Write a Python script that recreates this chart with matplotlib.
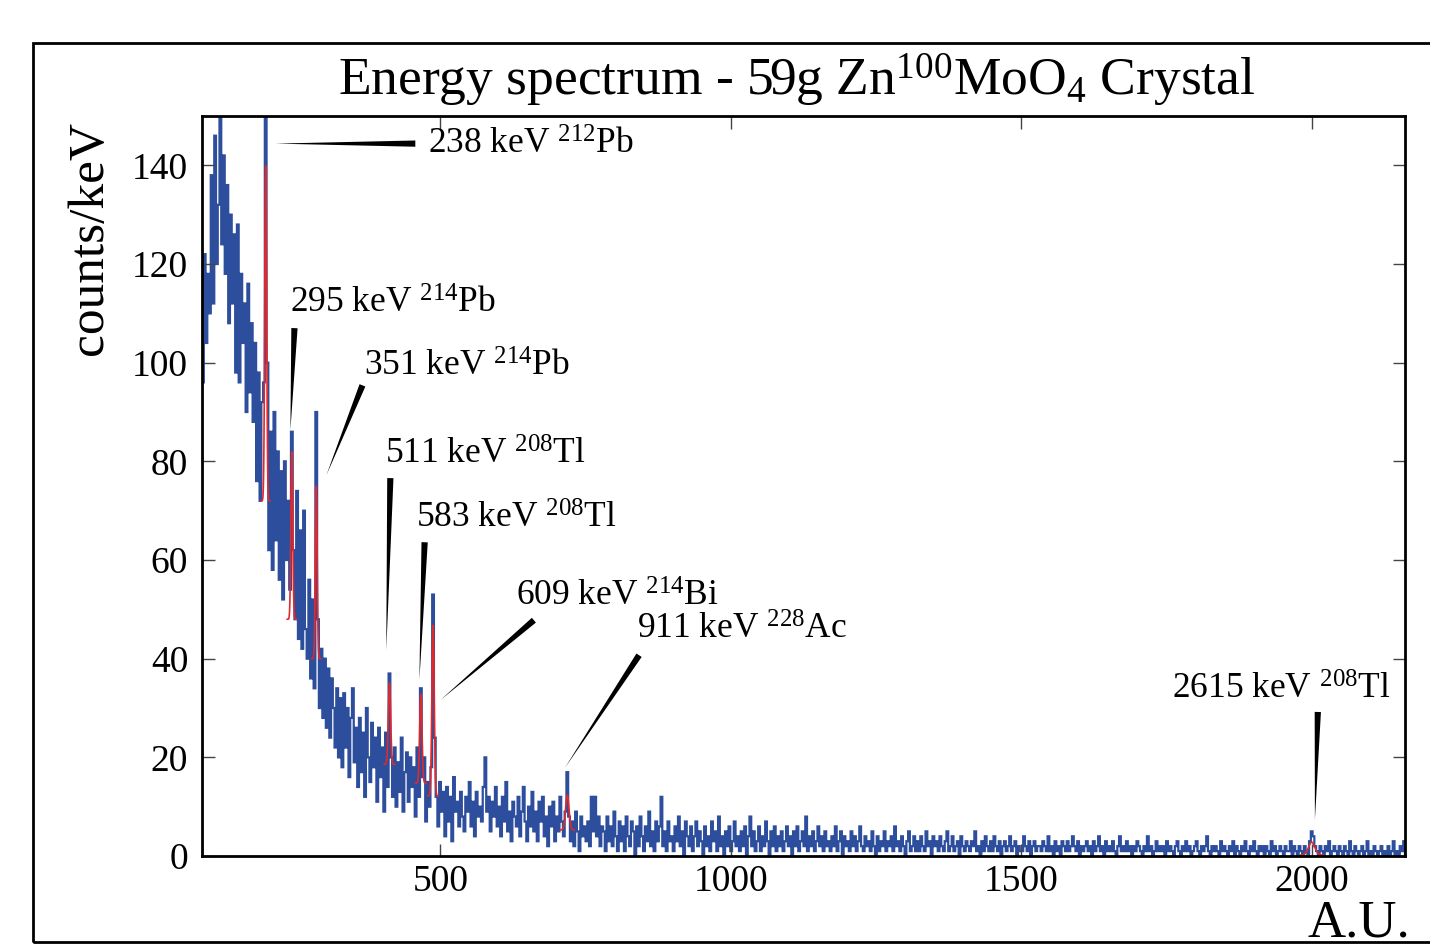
import numpy as np
import matplotlib.pyplot as plt
from matplotlib.patches import Rectangle

plt.rcParams['font.family'] = ['Liberation Serif', 'DejaVu Serif']
plt.rcParams['mathtext.fontset'] = 'custom'
plt.rcParams['mathtext.rm'] = 'Liberation Serif'
plt.rcParams['mathtext.it'] = 'Liberation Serif:italic'

# histogram: 3 A.U. bins starting at 90 (one row = 30 A.U.)
bin_start = 90
bin_width = 3
counts = [
    96, 122, 104, 118, 110, 138, 112, 146, 120, 132,
    150, 124, 142, 118, 136, 108, 130, 112, 126, 98,
    128, 96, 118, 104, 112, 90, 116, 94, 108, 88,
    104, 76, 98, 72, 92, 96, 150, 100, 62, 86,
    58, 90, 64, 82, 56, 78, 52, 80, 60, 72,
    54, 86, 62, 48, 74, 44, 66, 42, 70, 46,
    40, 56, 36, 52, 34, 90, 48, 30, 42, 28,
    40, 26, 38, 24, 36, 30, 22, 34, 20, 32,
    18, 33, 22, 30, 16, 28, 34, 19, 26, 14,
    28, 17, 25, 12, 30, 20, 15, 27, 18, 24,
    11, 26, 16, 22, 9, 25, 14, 37, 20, 12,
    22, 10, 19, 13, 24, 9, 17, 21, 11, 20,
    14, 18, 8, 22, 12, 34, 16, 20, 7, 15,
    10, 18, 53, 24, 12, 6, 15, 9, 13, 4,
    14, 7, 12, 3, 16, 9, 11, 6, 13, 8,
    5, 12, 9, 15, 6, 11, 4, 13, 8, 10,
    7, 14, 20, 9, 12, 5, 11, 8, 14, 6,
    10, 4, 12, 7, 15, 5, 9, 3, 11, 8,
    6, 12, 4, 9, 14, 7, 3, 10, 6, 13,
    5, 9, 3, 11, 7, 12, 4, 8, 2, 10,
    6, 11, 3, 8, 5, 12, 7, 4, 9, 17,
    8, 3, 7, 2, 9, 5, 1, 8, 4, 6,
    3, 7, 2, 12, 5, 12, 4, 8, 2, 6,
    5, 1, 8, 3, 6, 2, 9, 4, 1, 7,
    3, 6, 1, 8, 4, 2, 7, 5, 0, 6,
    2, 8, 4, 1, 6, 3, 9, 2, 5, 1,
    7, 3, 6, 12, 2, 5, 1, 7, 3, 4,
    1, 6, 3, 8, 2, 5, 0, 7, 4, 2,
    6, 1, 4, 7, 2, 5, 3, 0, 6, 2,
    4, 1, 7, 3, 5, 1, 8, 2, 4, 0,
    5, 2, 6, 1, 3, 7, 2, 4, 1, 5,
    2, 6, 0, 4, 8, 2, 5, 1, 3, 6,
    1, 4, 2, 7, 3, 0, 5, 2, 6, 1,
    4, 2, 5, 1, 3, 6, 2, 4, 0, 5,
    2, 6, 1, 3, 5, 2, 8, 1, 4, 2,
    5, 1, 3, 6, 2, 4, 1, 5, 2, 3,
    1, 4, 2, 6, 1, 3, 5, 0, 4, 2,
    3, 1, 5, 2, 4, 1, 3, 6, 2, 1,
    4, 2, 3, 1, 5, 2, 0, 4, 1, 3,
    2, 5, 1, 3, 2, 4, 1, 6, 2, 3,
    1, 4, 2, 0, 3, 5, 1, 2, 4, 1,
    3, 1, 4, 2, 1, 5, 2, 3, 0, 4,
    2, 3, 1, 4, 2, 1, 3, 5, 1, 2,
    4, 1, 2, 3, 0, 4, 2, 1, 3, 2,
    1, 3, 2, 5, 1, 2, 0, 3, 1, 4,
    2, 1, 3, 1, 4, 2, 1, 3, 0, 2,
    3, 1, 2, 4, 1, 2, 3, 0, 2, 1,
    1, 4, 2, 1, 3, 0, 2, 3, 1, 2,
    2, 1, 3, 2, 1, 4, 1, 2, 0, 3,
    1, 2, 0, 3, 2, 1, 3, 1, 2, 4,
    2, 1, 3, 0, 2, 1, 2, 3, 1, 2,
    0, 3, 1, 2, 4, 1, 2, 0, 3, 1,
    2, 1, 3, 1, 0, 2, 4, 1, 2, 1,
    3, 1, 2, 0, 2, 1, 3, 2, 1, 0,
    2, 1, 4, 1, 2, 0, 1, 3, 1, 2,
    1, 2, 0, 3, 1, 2, 1, 0, 2, 3,
    1, 0, 2, 1, 3, 1, 2, 0, 1, 2,
    3, 1, 0, 2, 1, 2, 4, 1, 0, 2,
    1, 2, 1, 0, 3, 1, 2, 1, 0, 2,
    1, 3, 0, 2, 1, 0, 2, 1, 3, 1,
    0, 2, 1, 3, 1, 0, 2, 1, 2, 0,
    2, 1, 0, 3, 1, 2, 0, 1, 2, 1,
    0, 2, 1, 1, 3, 0, 2, 1, 0, 2,
    1, 0, 2, 1, 0, 3, 5, 4, 2, 1,
    0, 2, 1, 0, 2, 1, 3, 0, 1, 2,
    1, 0, 2, 1, 0, 2, 1, 0, 3, 1,
    0, 2, 1, 0, 1, 2, 0, 1, 3, 0,
    1, 0, 2, 1, 0, 1, 2, 0, 1, 0,
    2, 0, 1, 3, 0, 1, 0, 2, 1, 3,
]
edges = bin_start + bin_width * np.arange(len(counts) + 1)

# gaussian fits: centre, amplitude, sigma, constant, half range
fit_center = [199.5, 244.5, 286.5, 412.5, 466.5, 487.5, 718.5, 1999.5]
fit_amp = [68, 34, 35, 16.5, 18, 34.6, 7, 2.6]
fit_sigma = [1.6, 1.6, 1.6, 2.0, 2.0, 2.0, 3.0, 5.5]
fit_const = [72, 48, 40, 18.6, 14.8, 12.2, 5.3, 0.2]
fit_half = [8, 8, 8, 9, 9, 9, 12, 20]

# peak labels and pointer wedges (thick end -> peak)
labels = ['238 keV $^{212}$Pb', '295 keV $^{214}$Pb', '351 keV $^{214}$Pb',
          '511 keV $^{208}$Tl', '583 keV $^{208}$Tl', '609 keV $^{214}$Bi',
          '911 keV $^{228}$Ac', '2615 keV $^{208}$Tl']
label_x = [478, 242, 369, 405.5, 459, 631, 838, 1759]
label_y = [144, 111.8, 99, 81.2, 68.3, 52.5, 45.8, 33.6]
wedge_from = [(457, 144.4), (249, 107), (366, 95.4), (414, 76.6),
              (473, 63.6), (661, 47.8), (842, 40.7), (2010, 29.2)]
wedge_to = [(216, 144.4), (242, 86.3), (304, 77.2), (407, 41.7),
            (464, 35.7), (500, 31.6), (714, 17.8), (2005, 7.3)]

fig = plt.figure(figsize=(14.3, 9.46), dpi=100)
ax = fig.add_axes([0.1413, 0.0951, 0.9825 - 0.1413, 0.8774 - 0.0951])

ax.stairs(counts, edges, color='#2d4e9c', linewidth=1.6)

for c, a, s, k, h in zip(fit_center, fit_amp, fit_sigma, fit_const, fit_half):
    xs = np.linspace(c - h, c + h, 80)
    ax.plot(xs, k + a * np.exp(-0.5 * ((xs - c) / s) ** 2), color='#e3282c', linewidth=1.2)

for lab, lx, ly, p0, p1 in zip(labels, label_x, label_y, wedge_from, wedge_to):
    ax.text(lx, ly, lab, fontsize=25.5, ha='left', va='center')
    ax.annotate('', xy=p1, xytext=p0,
                arrowprops=dict(arrowstyle='wedge,tail_width=0.45', mutation_scale=10,
                                color='black', shrinkA=0, shrinkB=0, lw=0))

ax.set_xlim(90, 2160)
ax.set_ylim(0, 150)
ax.set_xticks([500, 1000, 1500, 2000])
ax.set_yticks(range(0, 141, 20))
ax.tick_params(direction='in', length=9, width=1, top=True, right=True,
               labelsize=27, pad=10, color='#444444')
ax.tick_params(axis='x', pad=6)
for sp in ax.spines.values():
    sp.set_linewidth(2)

fig.text(0.557, 0.915, 'Energy spectrum - 59g Zn$^{100}$MoO$_4$ Crystal',
         fontsize=38.5, ha='center', va='center')
fig.text(0.063, 0.748, 'counts/keV', fontsize=37, rotation=90, ha='center', va='center')
fig.text(0.986, 0.010, 'A.U.', fontsize=38, ha='right', va='baseline')

fig.patches.append(Rectangle((0.0231, 0.0042), 1.0, 0.950, transform=fig.transFigure,
                             fill=False, edgecolor='black', linewidth=2))

fig.savefig('out.png', dpi=100)
